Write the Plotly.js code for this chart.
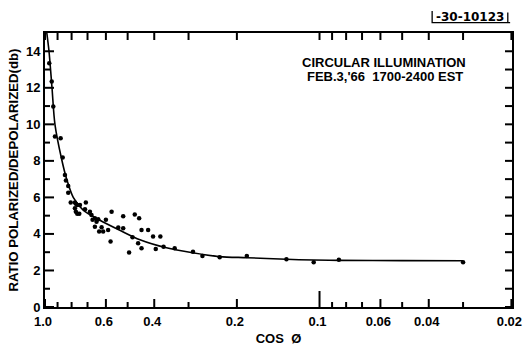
<!DOCTYPE html>
<html>
<head>
<meta charset="utf-8">
<script src="https://cdn.plot.ly/plotly-3.0.1.min.js"></script>
<style>
  html, body { margin: 0; padding: 0; background: #fff; }
  #chart { width: 525px; height: 347px; }
</style>
</head>
<body>
<div id="chart"></div>
<script>
// Measured ratio of polarized to depolarized return (db) against cos(phi)
const cosPhi = [
  0.965, 0.945, 0.933, 0.920, 0.877, 0.862, 0.846, 0.839, 0.823, 0.823,
  0.806, 0.778, 0.772, 0.763, 0.746, 0.710, 0.778, 0.772, 0.763, 0.750,
  0.715, 0.686, 0.677, 0.671, 0.658, 0.649, 0.640, 0.600, 0.572, 0.658,
  0.622, 0.635, 0.614, 0.589, 0.577, 0.541, 0.519, 0.519, 0.480, 0.471,
  0.454, 0.494, 0.458, 0.445, 0.421, 0.445, 0.404, 0.380, 0.395, 0.370,
  0.337, 0.289, 0.267, 0.231, 0.184, 0.132, 0.105, 0.085, 0.030
];
const ratioDb = [
  13.35, 12.35, 10.98, 9.34, 9.24, 8.19, 7.23, 6.92, 6.63, 6.26,
  5.72, 5.72, 5.65, 5.59, 5.59, 5.72, 5.41, 5.22, 5.10, 5.10,
  5.35, 5.22, 5.04, 4.77, 4.86, 4.67, 4.81, 4.77, 5.22, 4.40,
  4.37, 4.13, 4.13, 4.22, 3.58, 4.35, 4.31, 4.97, 3.82, 5.06,
  4.86, 2.98, 3.49, 4.22, 4.22, 3.22, 3.86, 3.86, 3.17, 3.30,
  3.22, 3.03, 2.79, 2.72, 2.79, 2.61, 2.45, 2.58, 2.45
];

// Smooth fitted curve through the measurements
const fitCos = [0.985, 0.967, 0.943, 0.920, 0.870, 0.834, 0.789, 0.726, 0.631, 0.534,
                0.451, 0.361, 0.290, 0.231, 0.184, 0.132, 0.105, 0.085, 0.050, 0.030];
const fitDb  = [15.0, 14.0, 12.0, 10.0, 8.1, 7.0, 6.0, 5.3, 4.75, 4.2,
                3.68, 3.24, 2.97, 2.76, 2.70, 2.61, 2.57, 2.55, 2.54, 2.53];

// Axis ticks
const xTickVals = [1, 0.6, 0.4, 0.2, 0.1, 0.06, 0.04, 0.02];
const xTickText = ['1.0', '0.6', '0.4', '0.2', '0.1', '0.06', '0.04', '0.02'];
const xMinorVals = [0.9, 0.8, 0.7, 0.5, 0.3, 0.09, 0.08, 0.07, 0.05, 0.03];
const yTickVals = [0, 2, 4, 6, 8, 10, 12, 14];
const yMinorVals = [1, 3, 5, 7, 9, 11, 13];

const FONT = 'Liberation Sans, Arial, sans-serif';
const X_LO = 1, X_HI = 0.0199;
const X_RANGE = [Math.log10(X_LO), Math.log10(X_HI)];
const Y_RANGE = [0, 15];

// plot area size in pixels, used to express tick lengths in axis units
const W = 525, H = 347;
const M = { l: 45, r: 13, t: 33, b: 40 };
const PW = W - M.l - M.r, PH = H - M.t - M.b;
const DECADES = X_RANGE[0] - X_RANGE[1];
const yPerPx = (Y_RANGE[1] - Y_RANGE[0]) / PH;
const decPerPx = DECADES / PW;

// Inward tick marks on the four sides, built as one segmented line trace
const tx = [], ty = [];
function addXTicks(vals, lenPx, top) {
  vals.forEach(v => {
    const y0 = top ? Y_RANGE[1] : Y_RANGE[0];
    const y1 = top ? y0 - lenPx * yPerPx : y0 + lenPx * yPerPx;
    tx.push(v, v, null); ty.push(y0, y1, null);
  });
}
function addYTicks(vals, lenPx, right) {
  vals.forEach(v => {
    const x0 = right ? X_HI : X_LO;
    const x1 = right ? x0 * Math.pow(10, lenPx * decPerPx) : x0 / Math.pow(10, lenPx * decPerPx);
    tx.push(x0, x1, null); ty.push(v, v, null);
  });
}
addXTicks(xTickVals.filter(v => v !== 0.1), 8, false);
addXTicks([0.1], 16, false);
addXTicks(xMinorVals, 5, false);
addXTicks(xTickVals.concat(xMinorVals), 7, true);
addYTicks(yTickVals, 9, false);
addYTicks(yMinorVals, 5, false);
addYTicks(yTickVals.concat(yMinorVals), 7, true);

const traces = [
  {
    x: tx, y: ty, type: 'scatter', mode: 'lines', connectgaps: false,
    line: { color: '#000', width: 2 }, cliponaxis: false,
    hoverinfo: 'skip', showlegend: false
  },
  {
    x: fitCos, y: fitDb, type: 'scatter', mode: 'lines',
    line: { color: '#000', width: 1.6, shape: 'spline', smoothing: 0.8 },
    hoverinfo: 'skip', showlegend: false
  },
  {
    x: cosPhi, y: ratioDb, type: 'scatter', mode: 'markers',
    marker: { color: '#000', size: 4.5 },
    showlegend: false
  }
];

const layout = {
  width: W, height: H,
  margin: M,
  paper_bgcolor: '#fff', plot_bgcolor: '#fff',
  font: { family: FONT, color: '#000', size: 13 },
  xaxis: {
    type: 'log', range: X_RANGE,
    tickmode: 'array', tickvals: xTickVals, ticktext: xTickText,
    ticks: '', ticklabelshift: 2, ticklabelstandoff: 2, ticklabeloverflow: 'allow',
    showline: true, linecolor: '#000', linewidth: 1.6, mirror: true,
    showgrid: false, zeroline: false,
    tickfont: { family: FONT, size: 13, color: '#000', weight: 'bold' },
    title: { text: 'COS  Ø', font: { family: FONT, size: 13, color: '#000', weight: 'bold' }, standoff: 5 }
  },
  yaxis: {
    range: Y_RANGE,
    tickmode: 'array', tickvals: yTickVals,
    ticks: '',
    showline: true, linecolor: '#000', linewidth: 2, mirror: true,
    showgrid: false, zeroline: false,
    tickfont: { family: FONT, size: 13, color: '#000', weight: 'bold' },
    title: { text: 'RATIO POLARIZED/DEPOLARIZED(db)', font: { family: FONT, size: 13.2, color: '#000', weight: 'bold' }, standoff: 4 }
  },
  shapes: [
    // drawing number frame, upper right
    { type: 'path', xref: 'paper', yref: 'paper',
      path: 'M 0.829 1.08 L 0.829 1.038 L 0.996 1.038 M 0.991 1.075 L 0.991 1.038',
      line: { color: '#000', width: 1.3 } }
  ],
  annotations: [
    { xref: 'paper', yref: 'paper', x: 0.725, y: 0.894, xanchor: 'center', yanchor: 'middle',
      text: 'CIRCULAR ILLUMINATION', showarrow: false,
      font: { family: FONT, size: 13, color: '#000', weight: 'bold' } },
    { xref: 'paper', yref: 'paper', x: 0.729, y: 0.841, xanchor: 'center', yanchor: 'middle',
      text: "FEB.3,'66  1700-2400 EST", showarrow: false,
      font: { family: FONT, size: 13, color: '#000', weight: 'bold' } },
    { xref: 'paper', yref: 'paper', x: 0.91, y: 1.058, xanchor: 'center', yanchor: 'middle',
      text: '-30-10123', showarrow: false,
      font: { family: 'DejaVu Sans, sans-serif', size: 12, color: '#000', weight: 'bold' } }
  ]
};

Plotly.newPlot('chart', traces, layout, { displayModeBar: false });
</script>
</body>
</html>
